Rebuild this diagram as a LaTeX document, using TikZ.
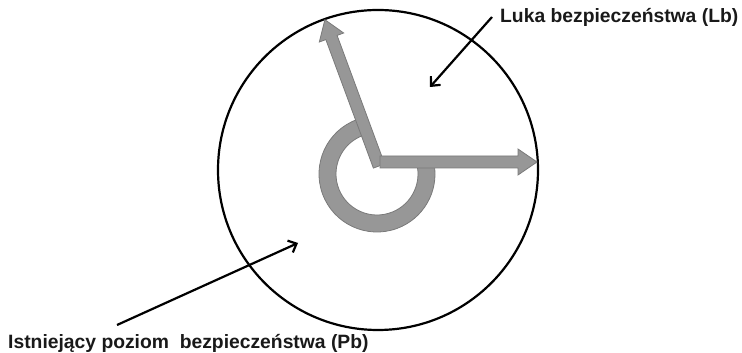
\documentclass[tikz,border=0pt]{standalone}
\usepackage{fontspec}
\setmainfont{Liberation Sans}
\usetikzlibrary{arrows.meta}
\definecolor{gaugefill}{HTML}{979797}
\definecolor{gaugeline}{HTML}{7A7A7A}
\begin{document}
\begin{tikzpicture}[x=1pt, y=1pt,
  gauge/.style={fill=gaugefill, draw=gaugeline, line width=0.8pt, line join=miter},
  pointer/.style={line width=2.2pt, -{Straight Barb[length=7pt, width=13pt, line width=2.2pt]}},
  lbl/.style={font=\bfseries\fontsize{19.3}{22}\selectfont, text=black!90, inner sep=0pt}]
\useasboundingbox (0,0) rectangle (742,353);
\draw[line width=2.2pt] (378,183) circle (160);
\filldraw[gauge] (377,179) ++(110:58) arc[start angle=110, end angle=370, radius=58]
  -- ++(190:17) arc[start angle=370, end angle=110, radius=41] -- cycle;
\begin{scope}[shift={(379,187)}, rotate=110.3]
\filldraw[gauge] (0,-6) -- (137,-6) -- (137,-13) -- (156,0) -- (137,13) -- (137,6) -- (0,6) -- cycle;
\end{scope}
\begin{scope}[shift={(380,191)}]
\filldraw[gauge] (0,-6) -- (138,-6) -- (138,-13) -- (157,0) -- (138,13) -- (138,6) -- (0,6) -- cycle;
\end{scope}
\node[lbl, anchor=west, inner xsep=8pt] (lb) at (492,336) {Luka bezpieczeństwa (Lb)};
\node[lbl, anchor=west] (pb) at (8,10) {Istniejący poziom~ bezpieczeństwa (Pb)};
\coordinate (lbgap) at (430,266);
\coordinate (pbfrom) at (117,28);
\coordinate (pblevel) at (298,110);
\draw[pointer] (lb.west) -- (lbgap);
\draw[pointer] (pbfrom) -- (pblevel);
\end{tikzpicture}
\end{document}
